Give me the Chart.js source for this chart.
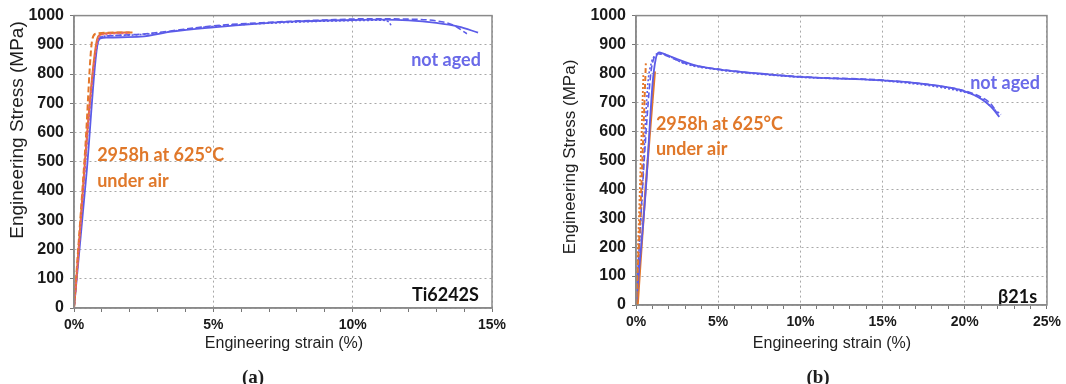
<!DOCTYPE html>
<html>
<head>
<meta charset="utf-8">
<script src="https://cdn.jsdelivr.net/npm/chart.js@4.4.1/dist/chart.umd.min.js"></script>
<style>
  body { margin: 0; width: 1066px; height: 384px; background: #fff; position: relative; overflow: hidden; font-family: 'Liberation Sans', Arial, sans-serif; }
  .box { position: absolute; }
  .lbl { position: absolute; white-space: nowrap; text-align: center; color: #1e1e1e; }
  .rot { transform: rotate(-90deg); }
  .sub { font-family: 'Liberation Serif', 'Times New Roman', serif; font-weight: bold; }
</style>
</head>
<body>
<div class="box" style="left:0;top:0;width:520px;height:345px"><canvas id="chartA"></canvas></div>
<div class="box" style="left:540px;top:0;width:526px;height:345px"><canvas id="chartB"></canvas></div>

<div class="lbl rot" style="left:-133px;top:119px;width:300px;height:22px;line-height:22px;font-size:19px">Engineering Stress (MPa)</div>
<div class="lbl" style="left:184px;top:334px;width:200px;height:18px;line-height:18px;font-size:16px">Engineering strain (%)</div>
<div class="lbl sub" style="left:213px;top:366px;width:80px;height:22px;line-height:22px;font-size:19px">(a)</div>

<div class="lbl rot" style="left:420px;top:147px;width:300px;height:20px;line-height:20px;font-size:17px">Engineering Stress (MPa)</div>
<div class="lbl" style="left:732px;top:334px;width:200px;height:18px;line-height:18px;font-size:16px">Engineering strain (%)</div>
<div class="lbl sub" style="left:778px;top:366px;width:80px;height:22px;line-height:22px;font-size:19px">(b)</div>

<script>
// ---- panel (a) Ti6242S : strain (%) / stress (MPa) ----
const aNotAgedSolid = [[0,0],[0.45,460],[0.86,910],[0.95,922],[1.2,925],[2.4,928],[3.5,945],[5,960],[6.5,972],[8,980],[10,985],[11,986],[12,984],[13,975],[13.8,962],[14.5,942]];
const aNotAgedDash  = [[0,0],[0.84,910],[0.95,925],[1.5,932],[2.5,937],[5,965],[7,977],[9,985],[10.5,989],[12,988],[13,982],[13.6,968],[14.1,938]];
const aNotAgedDot   = [[0,0],[0.88,915],[1.0,928],[2,933],[5,963],[8,978],[10,983],[11,984],[11.3,978],[11.4,962]];
const aAgedSolid    = [[0,0],[0.82,915],[0.95,935],[1.2,940],[2.1,942]];
const aAgedDash     = [[0,0],[0.4,540],[0.66,920],[0.8,938],[1.5,942],[2.0,942]];
const aAgedDot      = [[0,0],[0.85,915],[1.0,935],[2.0,940]];

// ---- panel (b) beta21s ----
const bNotAgedSolid = [[0,0],[0.6,400],[1.0,760],[1.2,850],[1.4,873],[1.7,868],[2.5,850],[3.5,830],[5,814],[7.5,800],[10,788],[12.5,782],[15,776],[17.5,764],[19,752],[20,738],[21,712],[21.6,685],[22.1,650]];
const bNotAgedDash  = [[0,0],[0.5,500],[0.9,800],[1.1,855],[1.3,868],[1.6,866],[3,835],[5,815],[10,789],[15,777],[18,760],[20,740],[21,718],[21.5,700],[22,663]];
const bNotAgedDot   = [[0,0],[0.3,300],[0.7,750],[0.95,840],[1.2,862],[1.5,868],[3,833],[5,813],[10,787],[15,775],[20,735],[21,715],[21.7,680],[22.2,658]];
const bAgedSolid    = [[0.1,0],[0.6,420],[1.15,807]];
const bAgedDash     = [[0,0],[0.25,300],[0.6,835]];
const bAgedDot      = [[0,0],[0.15,250],[0.45,800]];

const yTicks = [0,100,200,300,400,500,600,700,800,900,1000];

// text labels: [text, strain, stress, colour, align]
const aNotes = [
  ['not aged', 13.35, 846, '#6a6ae8', 'center'],
  ['2958h at 625°C', 0.83, 522, '#e0782a', 'left'],
  ['under air', 0.83, 433, '#e0782a', 'left'],
  ['Ti6242S', 14.53, 44, '#111', 'right']
];
const bNotes = [
  ['not aged', 20.33, 766, '#6a6ae8', 'left'],
  ['2958h at 625°C', 1.21, 625, '#e0782a', 'left'],
  ['under air', 1.21, 540, '#e0782a', 'left'],
  ['β21s', 24.4, 27, '#111', 'right']
];

const BLUE = '#5c5ce8';
const ORANGE = '#e4772a';
const PINK = '#e8607a';

function toXY(arr) { return arr.map(p => ({ x: p[0], y: p[1] })); }

function line(data, color, dash, width) {
  return {
    data: toXY(data), borderColor: color, borderWidth: width || 1.8, borderDash: dash,
    pointRadius: 0, fill: false, cubicInterpolationMode: 'monotone'
  };
}

const framePlugin = {
  id: 'frame',
  afterDraw(chart) {
    const { ctx, chartArea: a } = chart;
    ctx.save();
    ctx.strokeStyle = '#8a8a8a';
    ctx.lineWidth = 1.5;
    ctx.strokeRect(a.left, a.top, a.right - a.left, a.bottom - a.top);
    ctx.restore();
  }
};

const notesPlugin = {
  id: 'notes',
  afterDatasetsDraw(chart, args, opts) {
    const { ctx, scales } = chart;
    ctx.save();
    ctx.font = 'bold 18px Lato, "DejaVu Sans", sans-serif';
    ctx.textBaseline = 'middle';
    opts.items.forEach(n => {
      ctx.fillStyle = n[3];
      ctx.textAlign = n[4];
      ctx.fillText(n[0], scales.x.getPixelForValue(n[1]), scales.y.getPixelForValue(n[2]));
    });
    ctx.restore();
  }
};

function makeChart(id, sets, xMax, yWidth, xHeight, padTop, padRight, notes) {
  return new Chart(document.getElementById(id), {
    type: 'line',
    data: { datasets: sets },
    options: {
      responsive: true, maintainAspectRatio: false, animation: false,
      layout: { padding: { top: padTop, right: padRight, left: 0, bottom: 0 } },
      plugins: { legend: { display: false }, tooltip: { enabled: false }, notes: { items: notes } },
      scales: {
        x: {
          type: 'linear', min: 0, max: xMax,
          afterFit(s) { s.height = xHeight; },
          afterBuildTicks(s) { s.ticks = Array.from({ length: xMax + 1 }, (_, i) => ({ value: i })); },
          ticks: {
            autoSkip: false, maxRotation: 0, padding: 5, color: '#1a1a1a',
            font: { family: 'Liberation Sans', weight: 'bold', size: 14 },
            callback: v => (v % 5 === 0 ? v + '%' : '')
          },
          grid: {
            color: c => (c.tick && c.tick.value % 5 === 0 ? '#a8a8a8' : 'rgba(0,0,0,0)'),
            tickColor: '#777', tickLength: 4, lineWidth: 1
          },
          border: { color: '#8a8a8a', width: 1.5, dash: [2, 3] }
        },
        y: {
          type: 'linear', min: 0, max: 1000,
          afterFit(s) { s.width = yWidth; },
          afterBuildTicks(s) { s.ticks = yTicks.map(v => ({ value: v })); },
          ticks: {
            padding: 6, color: '#1a1a1a',
            font: { family: 'Liberation Sans', weight: 'bold', size: 16 },
            callback: v => String(v)
          },
          grid: { color: '#a8a8a8', tickColor: '#777', tickLength: 4, lineWidth: 1 },
          border: { color: '#8a8a8a', width: 1.5, dash: [2, 3] }
        }
      }
    },
    plugins: [framePlugin, notesPlugin]
  });
}

makeChart('chartA', [
  line(aAgedDot, PINK, [2, 2], 1.8),
  line(aAgedDash, ORANGE, [6, 3], 2),
  line(aAgedSolid, ORANGE, [], 2),
  line(aNotAgedDot, BLUE, [2, 2], 1.6),
  line(aNotAgedDash, BLUE, [6, 3], 1.6),
  line(aNotAgedSolid, BLUE, [], 1.8)
], 15, 74, 37, 15, 28, aNotes);

makeChart('chartB', [
  line(bAgedDot, ORANGE, [2, 2], 1.8),
  line(bAgedDash, ORANGE, [5, 3], 2),
  line(bNotAgedDot, BLUE, [2, 2], 1.6),
  line(bNotAgedDash, BLUE, [6, 3], 1.6),
  line(bNotAgedSolid, BLUE, [], 1.8),
  line(bAgedSolid, ORANGE, [], 2.2)
], 25, 96, 40, 14, 18, bNotes);
</script>
</body>
</html>
